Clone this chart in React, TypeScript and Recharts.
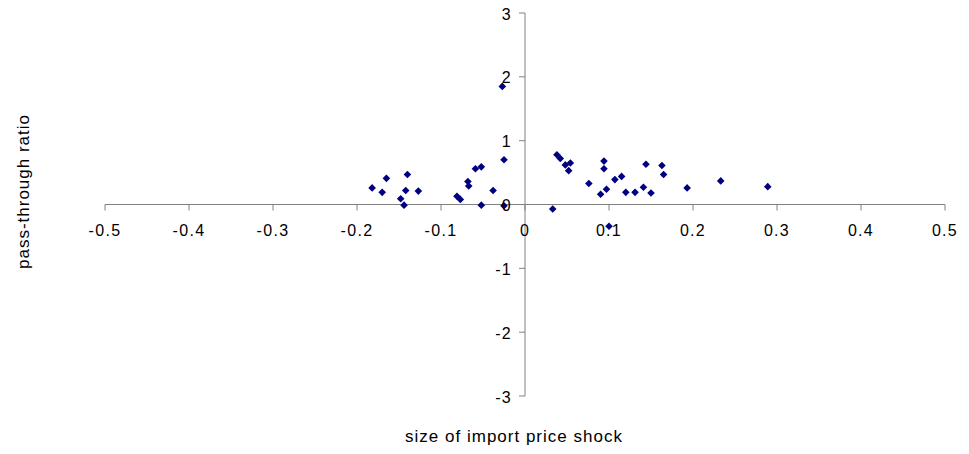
import React from "react";
import {
  ScatterChart,
  Scatter,
  XAxis,
  YAxis,
  ReferenceLine,
  Label,
} from "recharts";

// size of import price shock (x) and pass-through ratio (y)
const shockSize = [
  -0.182, -0.17, -0.165, -0.14, -0.142, -0.148, -0.144, -0.127, -0.081, -0.077,
  -0.068, -0.067, -0.059, -0.052, -0.052, -0.038, -0.025, -0.025, -0.027,
  0.033, 0.038, 0.042, 0.048, 0.054, 0.052, 0.076, 0.09, 0.097, 0.094, 0.094,
  0.1, 0.107, 0.115, 0.12, 0.131, 0.141, 0.144, 0.15, 0.163, 0.165, 0.193,
  0.233, 0.289,
];
const passThrough = [
  0.26, 0.19, 0.41, 0.47, 0.22, 0.09, -0.01, 0.21, 0.13, 0.08,
  0.36, 0.29, 0.56, 0.59, -0.01, 0.22, 0.7, -0.02, 1.85,
  -0.07, 0.78, 0.72, 0.62, 0.65, 0.53, 0.33, 0.16, 0.24, 0.68, 0.56,
  -0.34, 0.39, 0.44, 0.19, 0.19, 0.27, 0.63, 0.18, 0.61, 0.47, 0.26,
  0.37, 0.28,
];
const xTicks = [-0.5, -0.4, -0.3, -0.2, -0.1, 0, 0.1, 0.2, 0.3, 0.4, 0.5];
const yTicks = [-3, -2, -1, 0, 1, 2, 3];

const data = shockSize.map((x, i) => ({ x, y: passThrough[i] }));

const W = 953;
const H = 446;
const X_AXIS_H = 58;
const Y_AXIS_W = 97;
const M = { top: 5, right: 16, bottom: 0, left: 0 };
const PLOT_W = W - Y_AXIS_W - M.right;
const PLOT_H = H - M.top - X_AXIS_H;

const AXIS = "#808080";
const FONT = "'Liberation Sans', Arial, sans-serif";

// axes cross at zero, so ticks are pushed from the plot edge to the middle
const XTick = (props: any) => {
  const { x, y, payload } = props;
  const y0 = y - PLOT_H / 2;
  return (
    <g>
      <line x1={x} y1={y0} x2={x} y2={y0 + 6} stroke={AXIS} />
      <text
        x={x}
        y={y0 + 26}
        textAnchor="middle"
        dominantBaseline="central"
        fontFamily={FONT}
        fontSize={16}
        letterSpacing={1.3}
        fill="#000"
      >
        {String(payload.value)}
      </text>
    </g>
  );
};

const YTick = (props: any) => {
  const { x, y, payload } = props;
  const x0 = x + PLOT_W / 2;
  return (
    <g>
      <line x1={x0 - 6} y1={y} x2={x0} y2={y} stroke={AXIS} />
      <text
        x={x0 - 13}
        y={y + 1}
        textAnchor="end"
        dominantBaseline="central"
        fontFamily={FONT}
        fontSize={16}
        letterSpacing={1.3}
        fill="#000"
      >
        {String(payload.value)}
      </text>
    </g>
  );
};

const Diamond = (props: any) => {
  const { cx, cy } = props;
  const r = 3.8;
  return (
    <path
      d={`M${cx},${cy - r}L${cx + r},${cy}L${cx},${cy + r}L${cx - r},${cy}Z`}
      fill="#000080"
    />
  );
};

export default function App() {
  return (
    <div style={{ width: W, height: H }}>
      <style>{`.recharts-surface { overflow: visible; }`}</style>
      <ScatterChart width={W} height={H} margin={M}>
        <XAxis
          type="number"
          dataKey="x"
          domain={[-0.5, 0.5]}
          ticks={xTicks}
          interval={0}
          height={X_AXIS_H}
          tickSize={0}
          tickMargin={0}
          axisLine={false}
          tickLine={false}
          tick={XTick}
        >
          <Label
            content={(p: any) => {
              const vb = p.viewBox;
              return (
                <text
                  x={vb.x + vb.width / 2 - 11}
                  y={vb.y + 46}
                  textAnchor="middle"
                  fontFamily={FONT}
                  fontSize={17}
                  letterSpacing={1}
                  fill="#000"
                >
                  size of import price shock
                </text>
              );
            }}
          />
        </XAxis>
        <YAxis
          type="number"
          dataKey="y"
          domain={[-3, 3]}
          ticks={yTicks}
          interval={0}
          width={Y_AXIS_W}
          tickSize={0}
          tickMargin={0}
          axisLine={false}
          tickLine={false}
          tick={YTick}
        >
          <Label
            content={(p: any) => {
              const vb = p.viewBox;
              const lx = vb.x + vb.width - 82;
              const ly = vb.y + vb.height / 2 - 13;
              return (
                <text
                  x={lx}
                  y={ly}
                  transform={`rotate(-90 ${lx} ${ly})`}
                  textAnchor="middle"
                  dominantBaseline="central"
                  fontFamily={FONT}
                  fontSize={17}
                  letterSpacing={1}
                  fill="#000"
                >
                  pass-through ratio
                </text>
              );
            }}
          />
        </YAxis>
        <ReferenceLine y={0} stroke={AXIS} />
        <ReferenceLine x={0} stroke={AXIS} />
        <Scatter data={data} shape={Diamond} isAnimationActive={false} />
      </ScatterChart>
    </div>
  );
}
